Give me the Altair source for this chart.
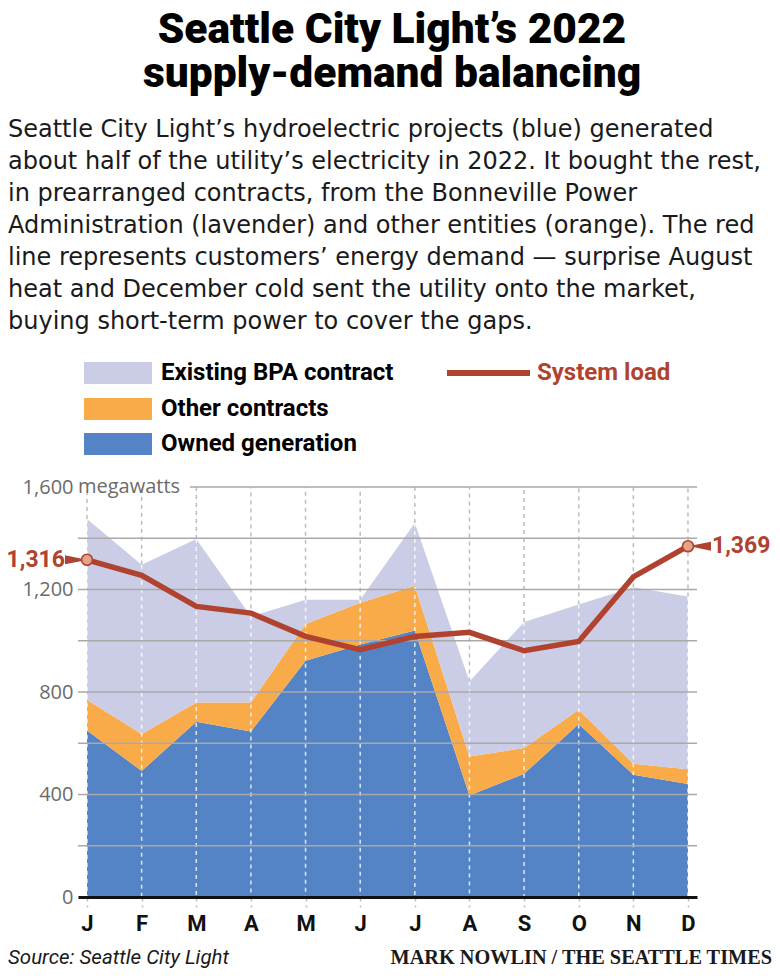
import altair as alt
import pandas as pd

# ---------------- data ----------------
months = ["Jan", "Feb", "Mar", "Apr", "May", "Jun", "Jul", "Aug", "Sep", "Oct", "Nov", "Dec"]
owned = [650, 492, 684, 646, 922, 985, 1040, 396, 481, 675, 477, 441]
other = [120, 144, 75, 113, 143, 163, 175, 152, 100, 56, 43, 58]
bpa = [705, 661, 638, 336, 95, 12, 245, 293, 492, 410, 689, 674]
load = [1316, 1255, 1134, 1108, 1017, 965, 1017, 1033, 961, 997, 1249, 1369]

series_names = ["Owned generation", "Other contracts", "Existing BPA contract"]
series_colors = ["#5484c5", "#f9ab4a", "#cbcde6"]
y_labels = [0, 400, 800, 1200, 1600]
grid_values = [200, 400, 600, 800, 1000, 1200, 1400]
unit_label = "megawatts"
load_label = "System load"

title_lines = ["Seattle City Light’s 2022", "supply-demand balancing"]
body_lines = [
    "Seattle City Light’s hydroelectric projects (blue) generated",
    "about half of the utility’s electricity in 2022. It bought the rest,",
    "in prearranged contracts, from the Bonneville Power",
    "Administration (lavender) and other entities (orange). The red",
    "line represents customers’ energy demand — surprise August",
    "heat and December cold sent the utility onto the market,",
    "buying short-term power to cover the gaps.",
]
source_text = "Source: Seattle City Light"
credit_text = "MARK NOWLIN / THE SEATTLE TIMES"

# ---------------- tables ----------------
series_values = [owned, other, bpa]
long_rows = []
for rank, (name, vals) in enumerate(zip(series_names, series_values)):
    for m, v in zip(months, vals):
        long_rows.append({"month": m, "series": name, "rank": rank, "value": v})
long_df = pd.DataFrame(long_rows)

wide_df = pd.DataFrame({
    "month": months,
    "total": [a + b + c for a, b, c in zip(owned, other, bpa)],
    "load": load,
})
grid_df = pd.DataFrame({"v": grid_values})
top_df = pd.DataFrame({"v": [y_labels[-1]]})
one = pd.DataFrame({"k": [0]})

# ---------------- style ----------------
W, H = 619, 410
RED = "#b0432f"
HEAD = "Roboto"
SANS = "'Open Sans', sans-serif"
BODY = "'DejaVu Sans', sans-serif"

x_axis = alt.Axis(
    title=None, labelExpr="substring(datum.label, 0, 1)", labelAngle=0,
    labelFont=HEAD, labelFontSize=22, labelFontWeight="bold",
    labelColor="#111111", domainColor="#111111", domainWidth=3,
    tickColor="#bdbdbd", tickDash=[4, 4], tickSize=10, tickWidth=1.5,
    labelPadding=6, grid=False, zindex=1,
)
y_axis = alt.Axis(
    title=None, values=y_labels, format=",.0f", labelFont=SANS, labelFontSize=20,
    labelColor="#6b6b6b", ticks=False, tickSize=0, domain=False, grid=False,
    labelPadding=5,
)
xscale = alt.Scale(type="point", domain=months, padding=0.165)
yscale = alt.Scale(domain=[y_labels[0], y_labels[-1]], nice=False, zero=True)

X = alt.X("month:O", scale=xscale, axis=x_axis)

# ---------------- layers ----------------
areas = alt.Chart(long_df).mark_area(interpolate="linear").encode(
    x=X,
    y=alt.Y("value:Q", stack="zero", scale=yscale, axis=y_axis),
    color=alt.Color("series:N", scale=alt.Scale(domain=series_names, range=series_colors), legend=None),
    order=alt.Order("rank:Q", sort="ascending"),
)

vert_white = alt.Chart(wide_df).transform_calculate(zero="0").mark_rule(
    color="white", strokeDash=[4, 4], strokeWidth=1.5, opacity=0.8
).encode(x=X, y=alt.Y("total:Q", scale=yscale, axis=y_axis), y2="zero:Q")

vert_gray = alt.Chart(wide_df).transform_calculate(top=str(y_labels[-1])).mark_rule(
    color="#bdbdbd", strokeDash=[4, 4], strokeWidth=1.5
).encode(x=X, y=alt.Y("total:Q", scale=yscale, axis=y_axis), y2="top:Q")

hgrid = alt.Chart(grid_df).mark_rule(color="#a9a9a9", strokeWidth=1.6).encode(
    y=alt.Y("v:Q", scale=yscale, axis=y_axis)
)
hgrid_top = alt.Chart(top_df).mark_rule(color="#a9a9a9", strokeWidth=1.6).encode(
    y=alt.Y("v:Q", scale=yscale, axis=y_axis), x=alt.value(112), x2=alt.value(W)
)
unit_text = alt.Chart(top_df).mark_text(
    align="left", baseline="middle", font=SANS, fontSize=20, color="#6b6b6b", text=unit_label
).encode(y=alt.Y("v:Q", scale=yscale, axis=y_axis), x=alt.value(0))

line = alt.Chart(wide_df).mark_line(color=RED, strokeWidth=5.5, strokeJoin="miter").encode(
    x=X, y=alt.Y("load:Q", scale=yscale, axis=y_axis)
)

ends = alt.Chart(wide_df).transform_filter(
    alt.FieldOneOfPredicate(field="month", oneOf=[months[0], months[-1]])
)
end_dots = ends.mark_point(
    shape="circle", size=120, fill="#e6a28b", stroke=RED, strokeWidth=1.6, opacity=1, fillOpacity=1
).encode(x=X, y=alt.Y("load:Q", scale=yscale, axis=y_axis))

first = alt.Chart(wide_df).transform_filter(alt.FieldEqualPredicate(field="month", equal=months[0]))
last = alt.Chart(wide_df).transform_filter(alt.FieldEqualPredicate(field="month", equal=months[-1]))

ptr_left = first.mark_point(
    shape="M-1,-0.5L1,-0.1L1,0.1L-1,0.5Z", size=324, filled=True, color=RED, opacity=1, xOffset=-13
).encode(x=X, y=alt.Y("load:Q", scale=yscale, axis=y_axis))
ptr_right = last.mark_point(
    shape="M1,-0.5L-1,-0.1L-1,0.1L1,0.5Z", size=324, filled=True, color=RED, opacity=1, xOffset=14
).encode(x=X, y=alt.Y("load:Q", scale=yscale, axis=y_axis))

lbl_left = first.mark_text(
    align="right", baseline="middle", dx=-22, font=HEAD, fontSize=23,
    fontWeight="bold", color=RED
).encode(x=X, y=alt.Y("load:Q", scale=yscale, axis=y_axis), text=alt.Text("load:Q", format=","))
lbl_right = last.mark_text(
    align="left", baseline="middle", dx=24, font=HEAD, fontSize=23,
    fontWeight="bold", color=RED
).encode(x=X, y=alt.Y("load:Q", scale=yscale, axis=y_axis), text=alt.Text("load:Q", format=","))

# ---------------- titles & legend (page decoration) ----------------
OX, OY = 78, 487  # plot origin on the page


def at(px, py):
    return dict(x=alt.value(px - OX), y=alt.value(py - OY))


title = alt.Chart(one).mark_text(
    align="center", baseline="alphabetic", font=HEAD, fontSize=42.5, fontWeight=900,
    lineHeight=44, color="#000000", text=title_lines
).encode(**at(392, 43))

body = alt.Chart(one).mark_text(
    align="left", baseline="alphabetic", font=BODY, fontSize=24, lineHeight=32,
    color="#1a1a1a", text=body_lines
).encode(**at(8, 137))

legend_layers = []
legend_rows = [373, 409, 444]
for name, row in zip(series_names[::-1], legend_rows):
    color = series_colors[series_names.index(name)]
    legend_layers.append(
        alt.Chart(one).mark_rect(color=color).encode(
            x=alt.value(84 - OX), x2=alt.value(152 - OX),
            y=alt.value(row - 11 - OY), y2=alt.value(row + 11 - OY),
        )
    )
    legend_layers.append(
        alt.Chart(one).mark_text(
            align="left", baseline="middle", font=HEAD, fontSize=24, fontWeight="bold",
            color="#000000", text=name
        ).encode(**at(161, row))
    )
legend_layers.append(
    alt.Chart(one).mark_rule(color=RED, strokeWidth=6).encode(
        x=alt.value(447 - OX), x2=alt.value(530 - OX), y=alt.value(373 - OY)
    )
)
legend_layers.append(
    alt.Chart(one).mark_text(
        align="left", baseline="middle", font=HEAD, fontSize=24, fontWeight="bold",
        color=RED, text=load_label
    ).encode(**at(537, 373))
)

source = alt.Chart(one).mark_text(
    align="left", baseline="alphabetic", font=HEAD, fontSize=20.5, fontStyle="italic",
    color="#1a1a1a", text=source_text
).encode(**at(8, 964))
credit = alt.Chart(one).mark_text(
    align="right", baseline="alphabetic", font="'Liberation Serif', serif", fontSize=20.3,
    fontWeight="bold", color="#1a1a1a", text=credit_text
).encode(**at(772, 964))

chart = alt.layer(
    areas, vert_gray, vert_white, hgrid, hgrid_top, unit_text, line,
    ptr_left, ptr_right, end_dots, lbl_left, lbl_right,
    title, body, *legend_layers, source, credit,
).properties(
    width=W, height=H,
    autosize=alt.AutoSizeParams(type="none"),
    padding={"left": OX - 8, "top": OY - 8, "right": 75, "bottom": 72},
    background="white",
).configure_view(stroke=None)

chart.save("out.html", embed_options={"renderer": "svg", "actions": False})
